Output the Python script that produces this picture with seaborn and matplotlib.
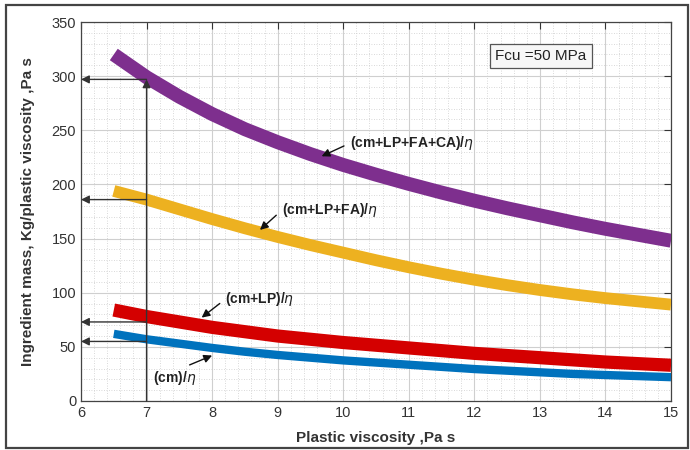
import numpy as np
import pandas as pd
import matplotlib
matplotlib.use("Agg")
import matplotlib.pyplot as plt
from matplotlib.ticker import MultipleLocator
from matplotlib.patches import Rectangle
import seaborn as sns

# ---- data ----
viscosity = [6.5, 7, 7.5, 8, 8.5, 9, 9.5, 10, 10.5, 11, 11.5, 12, 12.5, 13, 13.5, 14, 14.5, 15]
cm_lp_fa_ca = [320, 299, 281, 265, 251, 239, 228, 218, 209, 200.5, 192.5, 185, 178, 171.5, 165, 159, 153.5, 148]
cm_lp_fa = [194, 186, 177, 168, 159.5, 151.5, 144, 137, 130, 123.5, 117.5, 112, 107, 102.5, 98.5, 95, 92, 89]
cm_lp = [84, 78, 73, 68, 64, 60, 57, 54, 51.5, 49, 46.5, 44, 42, 40, 38, 36, 34.5, 33]
cm = [62, 57, 53, 49, 45.5, 42.5, 40, 37.5, 35.5, 33.5, 31.5, 29.5, 28, 26.5, 25, 24, 23, 22]

series_names = ["(cm+LP+FA+CA)", "(cm+LP+FA)", "(cm+LP)", "(cm)"]
series_values = [cm_lp_fa_ca, cm_lp_fa, cm_lp, cm]
series_colors = ["#7E2F8E", "#EDB120", "#D40000", "#0072BD"]
series_widths = [10, 8.5, 9.5, 6]

# guide arrows: read values at viscosity 7
guide_x = 7
guide_values = [297, 186, 73, 55]

x_ticks = list(range(6, 16))
y_ticks = list(range(0, 351, 50))

df = pd.DataFrame({
    "viscosity": viscosity * len(series_names),
    "value": sum(series_values, []),
    "series": sum([[n] * len(viscosity) for n in series_names], []),
})

sns.set_style("white")
plt.rcParams["font.family"] = ["Liberation Sans", "DejaVu Sans"]

fig = plt.figure(figsize=(6.9, 4.5), dpi=100)
ax = fig.add_axes([0.1174, 0.1089, 0.8551, 0.8422])

for name, col, lw in zip(series_names, series_colors, series_widths):
    sub = df[df["series"] == name]
    sns.lineplot(data=sub, x="viscosity", y="value", color=col, linewidth=lw,
                 ax=ax, legend=False, solid_capstyle="butt", solid_joinstyle="round", zorder=3)

ax.set_xlim(6, 15)
ax.set_ylim(0, 350)
ax.set_xticks(x_ticks)
ax.set_yticks(y_ticks)
ax.xaxis.set_minor_locator(MultipleLocator(0.2))
ax.yaxis.set_minor_locator(MultipleLocator(10))
ax.grid(which="major", color="#cfcfcf", linewidth=0.8, linestyle="-", zorder=0)
ax.grid(which="minor", color="#cccccc", linewidth=0.6, linestyle=(0, (1, 2)), zorder=0)
ax.set_axisbelow(True)
ax.tick_params(which="major", direction="in", length=5, top=True, right=True,
               labelsize=10.5, labelcolor="#333333", color="#333333", width=0.8)
ax.tick_params(which="minor", length=0)
for s in ax.spines.values():
    s.set_color("#444444")
    s.set_linewidth(0.9)

ax.set_xlabel("Plastic viscosity ,Pa s", fontsize=11, fontweight="bold", color="#333333", labelpad=8)
ax.set_ylabel("Ingredient mass, Kg/plastic viscosity ,Pa s", fontsize=11, fontweight="bold",
              color="#333333", labelpad=12)

# guide lines
ax.annotate("", xy=(guide_x, guide_values[0]), xytext=(guide_x, 0),
            arrowprops=dict(arrowstyle="-|>", color="#333333", lw=1.0, mutation_scale=12,
                            shrinkA=0, shrinkB=0), zorder=4)
for gv in guide_values:
    ax.annotate("", xy=(6.0, gv), xytext=(guide_x, gv),
                arrowprops=dict(arrowstyle="-|>", color="#333333", lw=1.0, mutation_scale=12,
                                shrinkA=0, shrinkB=0), zorder=4)

# curve labels
labels = [
    ("(cm+LP+FA+CA)/$\\eta$", (10.1, 238), (9.67, 226), (0, 0.5)),
    ("(cm+LP+FA)/$\\eta$", (9.06, 176), (8.73, 158), (0, 0.5)),
    ("(cm+LP)/$\\eta$", (8.2, 94), (7.84, 77), (0, 0.5)),
    ("(cm)/$\\eta$", (7.1, 21), (8.0, 42), (0.6, 1.0)),
]
for txt, tpos, apos, rp in labels:
    ax.annotate(txt, xy=apos, xytext=tpos, fontsize=10, fontweight="bold", color="#222222",
                va="center", ha="left",
                arrowprops=dict(arrowstyle="-|>", color="#111111", lw=1.0, mutation_scale=12,
                                shrinkA=2, shrinkB=0, relpos=rp),
                zorder=5)

ax.text(0.779, 0.91, "Fcu =50 MPa", transform=ax.transAxes, fontsize=11, ha="center", va="center",
        color="#222222",
        bbox=dict(boxstyle="square,pad=0.35", facecolor="#f7f7f7", edgecolor="#555555", linewidth=0.9),
        zorder=6)

# figure frame
fig.patches.append(Rectangle((0.009, 0.005), 0.988, 0.985, transform=fig.transFigure,
                             fill=False, edgecolor="#444444", linewidth=1.6))

fig.savefig("out.png", dpi=100)
